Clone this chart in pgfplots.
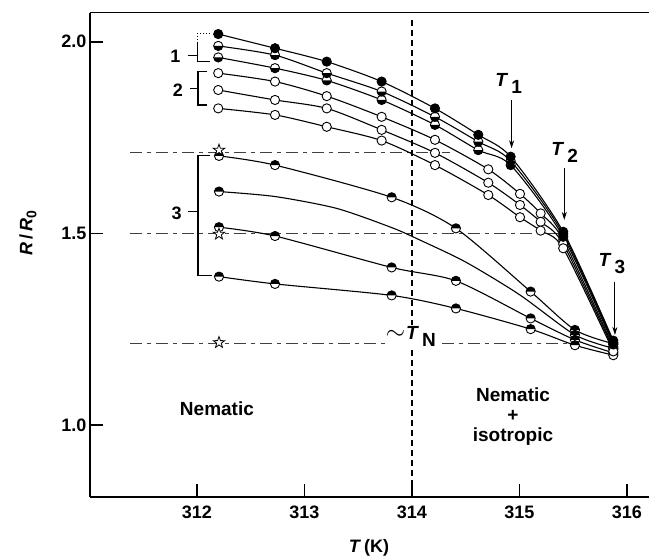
\documentclass[border=0pt]{standalone}
\usepackage{fontspec}
\setmainfont{Liberation Sans}
\usepackage{pgfplots}
\pgfplotsset{compat=1.18}
\usetikzlibrary{arrows.meta}

\pgfdeclareplotmark{htop}{%
  \pgfpathcircle{\pgfpointorigin}{\pgfplotmarksize}%
  \pgfsetfillcolor{white}\pgfusepathqfill
  \pgfpathmoveto{\pgfpoint{\pgfplotmarksize}{0pt}}%
  \pgfpatharc{0}{180}{\pgfplotmarksize}%
  \pgfpathclose
  \pgfsetfillcolor{black}\pgfusepathqfill
  \pgfpathcircle{\pgfpointorigin}{\pgfplotmarksize}%
  \pgfusepathqstroke
}
\pgfdeclareplotmark{hbot}{%
  \pgfpathcircle{\pgfpointorigin}{\pgfplotmarksize}%
  \pgfsetfillcolor{white}\pgfusepathqfill
  \pgfpathmoveto{\pgfpoint{-\pgfplotmarksize}{0pt}}%
  \pgfpatharc{180}{360}{\pgfplotmarksize}%
  \pgfpathclose
  \pgfsetfillcolor{black}\pgfusepathqfill
  \pgfpathcircle{\pgfpointorigin}{\pgfplotmarksize}%
  \pgfusepathqstroke
}
\pgfdeclareplotmark{ostar}{%
  \pgfpathmoveto{\pgfpointpolar{90}{1.25\pgfplotmarksize}}%
  \pgfpathlineto{\pgfpointpolar{126}{0.5\pgfplotmarksize}}%
  \pgfpathlineto{\pgfpointpolar{162}{1.25\pgfplotmarksize}}%
  \pgfpathlineto{\pgfpointpolar{198}{0.5\pgfplotmarksize}}%
  \pgfpathlineto{\pgfpointpolar{234}{1.25\pgfplotmarksize}}%
  \pgfpathlineto{\pgfpointpolar{270}{0.5\pgfplotmarksize}}%
  \pgfpathlineto{\pgfpointpolar{306}{1.25\pgfplotmarksize}}%
  \pgfpathlineto{\pgfpointpolar{342}{0.5\pgfplotmarksize}}%
  \pgfpathlineto{\pgfpointpolar{18}{1.25\pgfplotmarksize}}%
  \pgfpathlineto{\pgfpointpolar{54}{0.5\pgfplotmarksize}}%
  \pgfpathclose
  \pgfsetfillcolor{white}\pgfusepathqfillstroke
}

\begin{document}
\begin{tikzpicture}
\begin{axis}[name=ax, scale only axis, width=559pt, height=484.3pt,
  xmin=311.005, xmax=316.205, ymin=0.812, ymax=2.0757,
  axis lines=left, axis line style={-, line width=1.6pt},
  tick align=inside, major tick length=13pt,
  tick style={line width=1.6pt, black},
  xtick={312,313,314,315,316}, ytick={1.0,1.5,2.0},
  /pgf/number format/assume math mode=true,
  yticklabel style={/pgf/number format/.cd, fixed, fixed zerofill, precision=1},
  xticklabel style={/pgf/number format/1000 sep={}, yshift=-5pt},
  tick label style={font=\fontsize{18}{21}\selectfont\bfseries},
  label style={font=\fontsize{18}{21}\selectfont\bfseries},
  xlabel={\textit{T}\,(K)},
  xlabel style={at={(axis description cs:0.499,-0.105)}, anchor=center},
  ylabel={\textit{R}\,/\,\textit{R}\raisebox{-4pt}{\fontsize{14}{16}\selectfont 0}},
  ylabel style={at={(axis description cs:-0.111,0.5445)}, anchor=center, rotate=0},
  clip=false,
  every axis plot/.append style={line width=1.1pt, black, smooth, tension=0.45},
  mark size=4.6pt,
]
% reference lines
\addplot[no markers, sharp plot, line width=0.8pt, black!75, dash pattern=on 12pt off 5pt on 4pt off 5pt] coordinates {(311.377,1.712)(314.35,1.712)};
\addplot[no markers, sharp plot, line width=0.8pt, black!75, dash pattern=on 12pt off 5pt on 4pt off 5pt] coordinates {(311.377,1.500)(315.40,1.500)};
\addplot[no markers, sharp plot, line width=0.8pt, black!75, dash pattern=on 12pt off 5pt on 4pt off 5pt] coordinates {(311.377,1.212)(315.50,1.212)};
\addplot[no markers, sharp plot, line width=1.3pt, dash pattern=on 6pt off 4pt] coordinates {(314.0,2.057)(314.0,0.812)};

% group 3
\addplot[mark=htop, mark options={line width=0.9pt, solid}] coordinates {(312.205,1.702)(312.726,1.678)(313.811,1.594)(314.409,1.513)(315.104,1.348)(315.516,1.248)(315.873,1.212)};
\addplot[no markers] coordinates {(312.205,1.609)(312.726,1.596)(313.3,1.565)(313.811,1.515)(314.07,1.483)(314.5,1.425)(315.0,1.34)(315.516,1.235)(315.873,1.200)};
\addplot[only marks, mark=htop, mark options={line width=0.9pt, solid}] coordinates {(312.205,1.609)(315.516,1.235)(315.873,1.200)};
\addplot[mark=htop, mark options={line width=0.9pt, solid}] coordinates {(312.205,1.516)(312.726,1.493)(313.811,1.411)(314.409,1.376)(315.104,1.278)(315.516,1.222)(315.873,1.188)};
\addplot[mark=htop, mark options={line width=0.9pt, solid}] coordinates {(312.205,1.387)(312.726,1.368)(313.811,1.338)(314.409,1.304)(315.104,1.250)(315.516,1.208)(315.873,1.182)};

% group 2 (open)
\addplot[mark=*, mark options={fill=white, line width=0.9pt, solid}] coordinates {(312.198,1.918)(312.726,1.896)(313.207,1.858)(313.718,1.804)(314.214,1.744)(314.71,1.667)(315.005,1.603)(315.197,1.552)(315.407,1.483)(315.873,1.204)};
\addplot[mark=*, mark options={fill=white, line width=0.9pt, solid}] coordinates {(312.198,1.874)(312.726,1.848)(313.207,1.826)(313.718,1.770)(314.214,1.710)(314.71,1.632)(315.005,1.574)(315.197,1.530)(315.407,1.472)(315.873,1.198)};
\addplot[mark=*, mark options={fill=white, line width=0.9pt, solid}] coordinates {(312.198,1.826)(312.726,1.809)(313.207,1.778)(313.718,1.742)(314.214,1.678)(314.71,1.600)(315.005,1.542)(315.197,1.507)(315.407,1.461)(315.873,1.192)};

% group 1
\addplot[mark=hbot, mark options={line width=0.9pt, solid}] coordinates {(312.198,1.959)(312.726,1.931)(313.207,1.899)(313.718,1.848)(314.214,1.783)(314.617,1.717)(314.918,1.678)(315.407,1.491)(315.873,1.210)};
\addplot[mark=hbot, mark options={line width=0.9pt, solid}] coordinates {(312.198,1.989)(312.726,1.965)(313.207,1.918)(313.718,1.870)(314.214,1.804)(314.617,1.739)(314.918,1.689)(315.407,1.498)(315.873,1.215)};
\addplot[mark=*, mark options={fill=black, line width=0.9pt, solid}] coordinates {(312.198,2.020)(312.726,1.983)(313.207,1.948)(313.718,1.896)(314.214,1.826)(314.617,1.757)(314.918,1.700)(315.407,1.504)(315.873,1.220)};

% stars
\addplot[only marks, mark=ostar, mark size=4.8pt, mark options={line width=0.8pt}] coordinates {(312.205,1.717)(312.205,1.498)(312.205,1.215)};

% top frame line
\draw[line width=1.6pt] (rel axis cs:0,1) -- (rel axis cs:1,1);

% brackets
\draw[line width=1pt, dotted] (axis cs:312.12,2.022) -- (axis cs:312.009,2.022) -- (axis cs:312.009,2.0);
\draw[line width=1pt] (axis cs:312.009,2.0) -- (axis cs:312.009,1.948) -- (axis cs:312.12,1.948);
\draw[line width=1pt] (axis cs:311.916,1.965) -- (axis cs:312.009,1.965);
\draw[line width=1.2pt] (axis cs:312.09,1.922) -- (axis cs:312.009,1.922) -- (axis cs:312.009,1.835) -- (axis cs:312.09,1.835);
\draw[line width=1pt] (axis cs:311.935,1.878) -- (axis cs:312.009,1.878);
\draw[line width=1.2pt] (axis cs:312.12,1.703) -- (axis cs:312.009,1.703) -- (axis cs:312.009,1.389) -- (axis cs:312.14,1.389);
\draw[line width=1pt] (axis cs:311.916,1.556) -- (axis cs:312.009,1.556);
\node[font=\fontsize{18}{21}\selectfont\bfseries] at (axis cs:311.80,1.961) {1};
\node[font=\fontsize{18}{21}\selectfont\bfseries] at (axis cs:311.823,1.874) {2};
\node[font=\fontsize{18}{21}\selectfont\bfseries] at (axis cs:311.81,1.552) {3};

% T labels and arrows
\node[font=\fontsize{19}{22}\selectfont\bfseries] at (axis cs:314.90,1.89) {\textit{T}\hspace{3pt}\raisebox{-7pt}{1}};
\node[font=\fontsize{19}{22}\selectfont\bfseries] at (axis cs:315.42,1.71) {\textit{T}\hspace{3pt}\raisebox{-7pt}{2}};
\node[font=\fontsize{19}{22}\selectfont\bfseries] at (axis cs:315.86,1.42) {\textit{T}\hspace{3pt}\raisebox{-7pt}{3}};
\draw[line width=0.9pt, -{Stealth[length=8pt,width=5pt]}] (axis cs:314.927,1.848) -- (axis cs:314.927,1.722);
\draw[line width=0.9pt, -{Stealth[length=8pt,width=5pt]}] (axis cs:315.417,1.670) -- (axis cs:315.417,1.535);
\draw[line width=0.9pt, -{Stealth[length=8pt,width=5pt]}] (axis cs:315.888,1.374) -- (axis cs:315.888,1.235);

% ~T_N
\node[font=\fontsize{19}{22}\selectfont\bfseries, fill=white, inner sep=1pt] at (axis cs:313.99,1.232) {{\fontsize{30}{30}\selectfont$\sim$}\hspace{1pt}\textit{T}\hspace{3pt}\raisebox{-7pt}{N}};

% region labels
\node[font=\fontsize{19}{22}\selectfont\bfseries] at (axis cs:312.186,1.042) {Nematic};
\node[font=\fontsize{19}{22}\selectfont\bfseries, align=center] at (axis cs:314.94,1.021) {Nematic\\[-2pt]+\\[-2pt]isotropic};
\end{axis}
\pgfresetboundingbox
\useasboundingbox ([shift={(-90pt,-59pt)}]ax.south west) rectangle ([shift={(0pt,12.7pt)}]ax.north east);
\end{tikzpicture}
\end{document}
